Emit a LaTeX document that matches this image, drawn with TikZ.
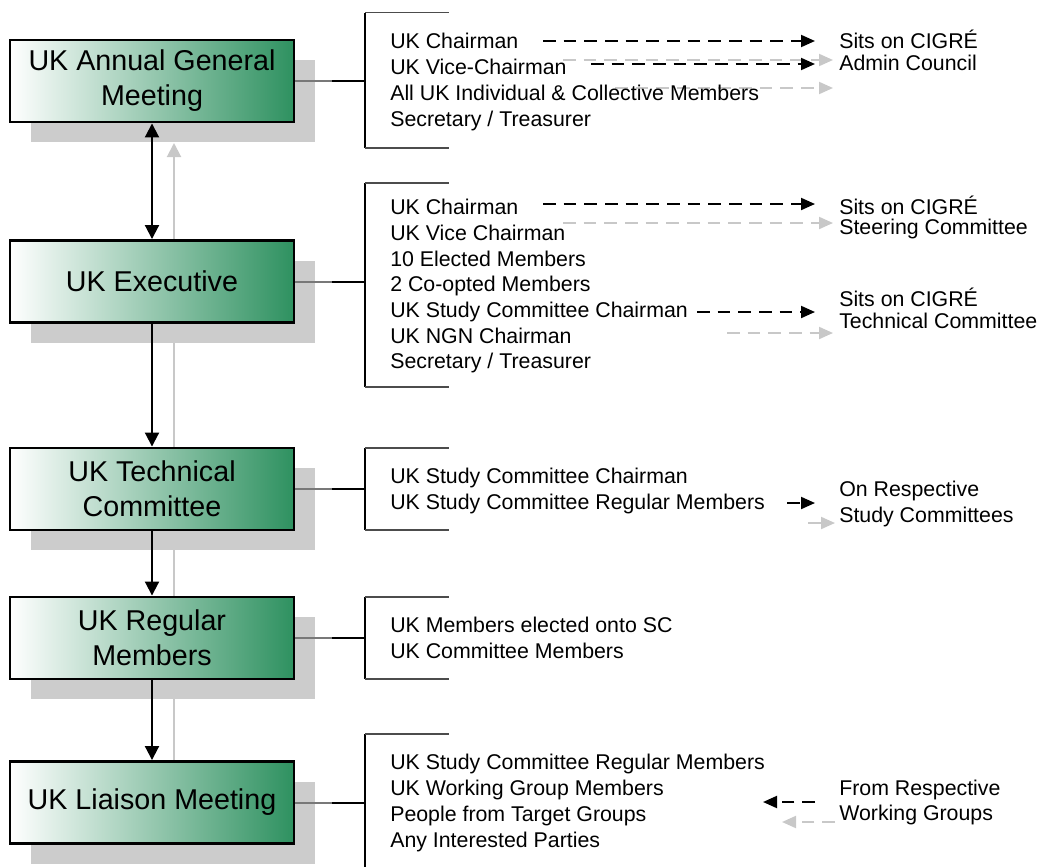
\documentclass[tikz,border=0pt]{standalone}
\usepackage{fontspec}
\setmainfont{Liberation Sans}
\usetikzlibrary{arrows.meta,shadows,backgrounds}
\definecolor{boxgreen}{RGB}{46,145,96}
\definecolor{shadowgray}{RGB}{204,204,204}
\definecolor{lightline}{RGB}{200,200,200}
\definecolor{joingray}{RGB}{120,120,120}
\begin{document}
\begin{tikzpicture}[x=0.75pt,y=-0.75pt,
  orgbox/.style={draw=black, line width=2.2pt, left color=white, right color=boxgreen,
     minimum width=213pt, minimum height=61.5pt, inner sep=0pt, align=center,
     font=\fontsize{21.5}{26.25}\selectfont,
     drop shadow={shadow xshift=15.75pt, shadow yshift=-15pt, fill=shadowgray, opacity=1}},
  txt/.style={font=\fontsize{16}{19}\selectfont, inner sep=0pt, anchor=west, text height=11.5pt, text depth=0pt},
  vline/.style={draw=black, line width=1.5pt},
  tipb/.tip={Triangle[length=10.5pt,width=10.5pt]},
  tipd/.tip={Triangle[length=10.5pt,width=9pt]},
  blackdash/.style={draw=black, line width=1.5pt, dash pattern=on 9.5pt off 6pt, -{tipd}},
  graydash/.style={draw=lightline, line width=1.5pt, dash pattern=on 9.5pt off 6pt, -{tipd[fill=lightline]}},
  bracketv/.style={draw=black, line width=1.1pt},
  brackett/.style={draw=black!70, line width=1.1pt},
  joinline/.style={draw=joingray, line width=1.5pt},
  conn/.style={draw=black, line width=1.5pt}]
\useasboundingbox (0,0) rectangle (1044,867);

% main boxes
\node[orgbox] (agm) at (152,81) {UK Annual General\\Meeting};
\node[orgbox] (exe) at (152,281.5) {UK Executive};
\node[orgbox] (tech) at (152,489) {UK Technical\\Committee};
\node[orgbox] (reg) at (152,638) {UK Regular\\Members};
\node[orgbox] (liai) at (152,802.5) {UK Liaison Meeting};

% grey return arrow behind everything
\coordinate (gtop) at (174,143);
\begin{pgfonlayer}{background}
\draw[draw=lightline, line width=1.5pt, -{Triangle[length=10.5pt,width=10.5pt,fill=lightline]}] (liai.north -| gtop) -- (gtop);
\end{pgfonlayer}

% vertical arrows
\draw[vline, {tipb}-{tipb}] (agm.south) -- (exe.north);
\draw[vline, -{tipb}] (exe.south) -- (tech.north);
\draw[vline, -{tipb}] (tech.south) -- (reg.north);
\draw[vline, -{tipb}] (reg.south) -- (liai.north);

% brackets
\coordinate (jx) at (332,0);
\coordinate (bx) at (365,0);
\draw[bracketv] (365,12.7) -- (365,148);
\draw[brackett] (365,12.7) -- (449,12.7) (365,148) -- (449,148);
\draw[bracketv] (365,183) -- (365,387);
\draw[brackett] (365,183) -- (449,183) (365,387) -- (449,387);
\draw[bracketv] (365,448) -- (365,530);
\draw[brackett] (365,448) -- (449,448) (365,530) -- (449,530);
\draw[bracketv] (365,597) -- (365,679);
\draw[brackett] (365,597) -- (449,597) (365,679) -- (449,679);
\draw[bracketv] (365,734) -- (365,867);
\draw[brackett] (365,734) -- (449,734);

% connectors box -> bracket
\foreach \b in {agm,exe,tech,reg,liai}{
  \draw[joinline] (\b.east) -- (\b.east -| jx);
  \draw[conn] (\b.east -| jx) -- (\b.east -| bx);
}

% bracket texts
\foreach \t [count=\i] in {UK Chairman, UK Vice-Chairman, All UK Individual \& Collective Members, Secretary / Treasurer}
  \node[txt] (a\i) at (390,15+26*\i) {\t};
\foreach \t [count=\i] in {UK Chairman, UK Vice Chairman, 10 Elected Members, 2 Co-opted Members, UK Study Committee Chairman, UK NGN Chairman, Secretary / Treasurer}
  \node[txt] (e\i) at (390,181.3+25.7*\i) {\t};
\foreach \t [count=\i] in {UK Study Committee Chairman, UK Study Committee Regular Members}
  \node[txt] (t\i) at (390,450+26*\i) {\t};
\foreach \t [count=\i] in {UK Members elected onto SC, UK Committee Members}
  \node[txt] (m\i) at (390,599+26*\i) {\t};
\foreach \t [count=\i] in {UK Study Committee Regular Members, UK Working Group Members, People from Target Groups, Any Interested Parties}
  \node[txt] (l\i) at (390,736+26*\i) {\t};

% right-hand texts
\node[txt] (r1a) at (839,41) {Sits on CIGRÉ};
\node[txt] (r1b) at (839,63) {Admin Council};
\node[txt] (r2a) at (839,207) {Sits on CIGRÉ};
\node[txt] (r2b) at (839,227) {Steering Committee};
\node[txt] (r3a) at (839,299) {Sits on CIGRÉ};
\node[txt] (r3b) at (839,321) {Technical Committee};
\node[txt] (r4a) at (839,489) {On Respective};
\node[txt] (r4b) at (839,515) {Study Committees};
\node[txt] (r5a) at (839,788) {From Respective};
\node[txt] (r5b) at (839,813) {Working Groups};

% dashed arrow end points
\coordinate (s1) at (543,41);  \coordinate (d1) at (815,41);
\coordinate (s2) at (591,64);  \coordinate (d2) at (815,64);
\coordinate (s3) at (543,204); \coordinate (d3) at (815,204);
\coordinate (s4) at (697,312); \coordinate (d4) at (815,312);
\coordinate (s5) at (787,503); \coordinate (d5) at (815,503);
\coordinate (s6) at (815,802); \coordinate (d6) at (763,802);
\coordinate (gs1) at (563,60);  \coordinate (gd1) at (833,60);
\coordinate (gs2) at (615,88);  \coordinate (gd2) at (833,88);
\coordinate (gs3) at (563,223); \coordinate (gd3) at (833,223);
\coordinate (gs4) at (727,333); \coordinate (gd4) at (833,333);
\coordinate (gs5) at (808,523); \coordinate (gd5) at (835,523);
\coordinate (gs6) at (835,822); \coordinate (gd6) at (782,822);

\begin{pgfonlayer}{background}
\foreach \i in {1,...,6} \draw[graydash] (gs\i) -- (gd\i);
\end{pgfonlayer}
\foreach \i in {1,...,6} \draw[blackdash] (s\i) -- (d\i);
\end{tikzpicture}
\end{document}
